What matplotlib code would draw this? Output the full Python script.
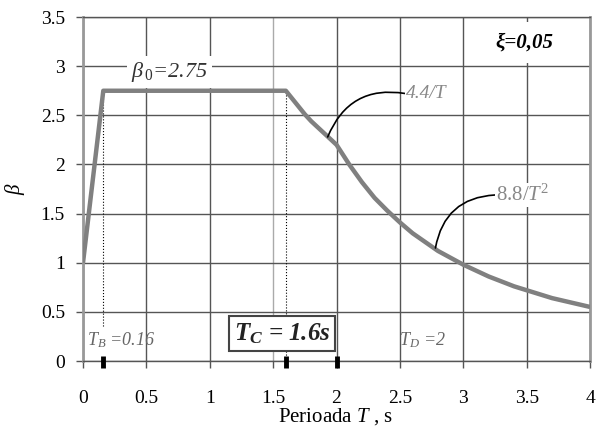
import matplotlib.pyplot as plt

plt.rcParams['font.family'] = ['Liberation Serif', 'DejaVu Serif']
plt.rcParams['mathtext.fontset'] = 'custom'
plt.rcParams['mathtext.rm'] = 'Liberation Serif'
plt.rcParams['mathtext.it'] = 'Liberation Serif:italic'
plt.rcParams['mathtext.bf'] = 'Liberation Serif:bold:italic'

# spectrum curve
T = [0.0, 0.16, 1.6, 1.65, 1.7, 1.75, 1.8, 1.85, 1.9, 1.95, 2.0,
     2.1, 2.2, 2.3, 2.4, 2.5, 2.6, 2.7, 2.8, 2.9, 3.0,
     3.1, 3.2, 3.3, 3.4, 3.5, 3.6, 3.7, 3.8, 3.9, 4.0]
beta = [1.0, 2.75, 2.75, 2.67, 2.59, 2.51, 2.44, 2.38, 2.32, 2.26, 2.2,
        2.0, 1.82, 1.66, 1.53, 1.41, 1.30, 1.21, 1.12, 1.05, 0.98,
        0.92, 0.86, 0.81, 0.76, 0.72, 0.68, 0.64, 0.61, 0.58, 0.55]

# corner periods
periods = [0.16, 1.6, 2.0]

xticks = [0, 0.5, 1, 1.5, 2, 2.5, 3, 3.5, 4]
xticklabels = ['0', '0.5', '1', '1.5', '2', '2.5', '3', '3.5', '4']
yticks = [0, 0.5, 1, 1.5, 2, 2.5, 3, 3.5]
yticklabels = ['0', '0.5', '1', '1.5', '2', '2.5', '3', '3.5']

fig = plt.figure(figsize=(5.98, 4.28), dpi=100)
ax = fig.add_axes([0.1388, 0.1565, 0.848, 0.8037])
ax.set_xlim(0, 4)
ax.set_ylim(0, 3.5)

ax.set_xticks(xticks)
ax.set_xticklabels(xticklabels)
ax.set_yticks(yticks)
ax.set_yticklabels(yticklabels)
ax.tick_params(axis='both', direction='out', length=5, width=1, color='#555555', labelsize=14)
ax.tick_params(axis='x', pad=16)
ax.tick_params(axis='y', pad=8)
ax.grid(True, color='#555555', lw=1)
ax.get_xgridlines()[3].set_color('#aaaaaa')
ax.set_axisbelow(True)

for side in ['left', 'right']:
    ax.spines[side].set_color('#999999')
    ax.spines[side].set_linewidth(2)
for side in ['top', 'bottom']:
    ax.spines[side].set_color('#555555')
    ax.spines[side].set_linewidth(1)

# the curve
ax.plot(T, beta, color='#808080', lw=3.2, zorder=3, solid_capstyle='butt', solid_joinstyle='round')

# dotted guides at T_B and T_C
ax.vlines(periods[0], 0.36, beta[1], colors='black', linestyles=':', lw=0.8, zorder=2)
ax.vlines(periods[1], 0.0, beta[2], colors='black', linestyles=':', lw=0.8, zorder=2)

# thick marks on the period axis
ax.vlines(periods, -0.07, 0.05, colors='black', lw=3.5, clip_on=False, zorder=4)

# labels
ax.text(0.68, 2.94, r'$\beta_{\,0}$=2.75', ha='center', va='center', fontsize=16,
        style='italic', color='#333333', bbox=dict(facecolor='white', edgecolor='none', pad=3), zorder=4)
ax.text(3.48, 3.24, 'ξ=0,05', ha='center', va='center', fontsize=15, style='italic',
        weight='bold', color='black',
        bbox=dict(facecolor='white', edgecolor='none', boxstyle='square,pad=0.5'), zorder=4)

ax.annotate('4.4/T', xy=(1.93, 2.28), xytext=(2.55, 2.72), ha='left', va='center',
            fontsize=14, style='italic', color='#888888',
            bbox=dict(facecolor='white', edgecolor='none', pad=1),
            arrowprops=dict(arrowstyle='-', color='black', lw=1.2, relpos=(0, 0.5),
                            connectionstyle='arc3,rad=0.4', shrinkA=0, shrinkB=0), zorder=4)
ax.annotate(r'$8.8/T^{2}$', xy=(2.78, 1.15), xytext=(3.26, 1.69), ha='left', va='center',
            fontsize=15, color='#888888',
            bbox=dict(facecolor='white', edgecolor='none', pad=1),
            arrowprops=dict(arrowstyle='-', color='black', lw=1.2, relpos=(0, 0.5),
                            connectionstyle='arc3,rad=0.4', shrinkA=0, shrinkB=0), zorder=4)

ax.text(0.03, 0.21, r'$T_{B}$ =0.16', ha='left', va='center', fontsize=13, style='italic', color='#666666')
ax.text(2.49, 0.21, r'$T_{D}$ =2', ha='left', va='center', fontsize=13, style='italic', color='#666666')
ax.text(1.57, 0.28, r'$\mathbf{T_{C}}$ = 1.6s', ha='center', va='center', fontsize=18,
        style='italic', weight='bold', color='#222222',
        bbox=dict(facecolor='white', edgecolor='#444444', lw=1.5, boxstyle='square,pad=0.2'), zorder=5)

ax.set_xlabel('Perioada $T$ , s', fontsize=15)
ax.xaxis.set_label_coords(0.497, -0.13)
ax.text(-0.135, 0.5, r'$\beta$', transform=ax.transAxes, rotation=90,
        ha='center', va='center', fontsize=15)

plt.savefig('out.png', dpi=100)
